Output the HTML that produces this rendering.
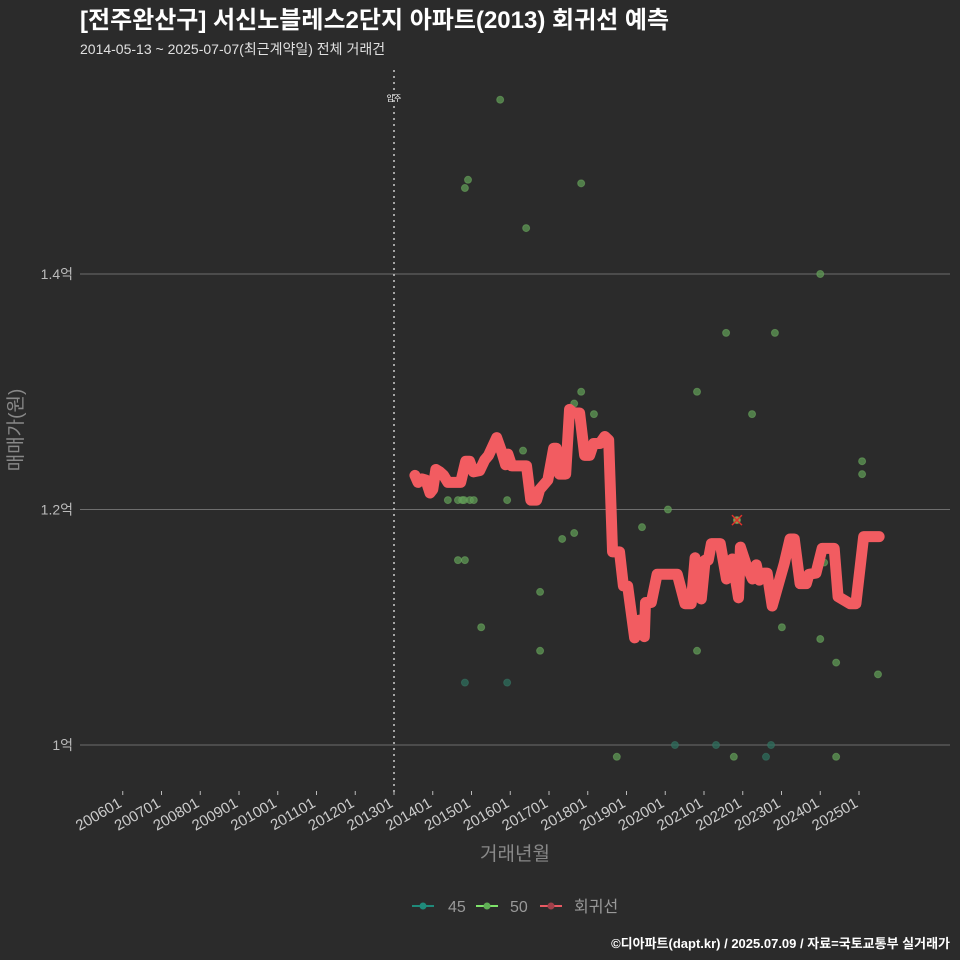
<!DOCTYPE html>
<html><head><meta charset="utf-8">
<style>
html,body{margin:0;padding:0;background:#2b2b2b;}
svg{display:block;font-family:"Liberation Sans","Noto Sans CJK KR",sans-serif;}
</style></head>
<body>
<svg id="chart" width="960" height="960" viewBox="0 0 960 960">
<rect width="960" height="960" fill="#2b2b2b"/>
<text x="80" y="28" fill="#ffffff" font-size="24" font-weight="bold">[전주완산구] 서신노블레스2단지 아파트(2013) 회귀선 예측</text>
<text x="80" y="54" fill="#e0e0e0" font-size="14">2014-05-13 ~ 2025-07-07(최근계약일) 전체 거래건</text>
<g id="grid"></g>
<g id="marks"></g>
<text x="22" y="430" fill="#888" font-size="19" transform="rotate(-90 22 430)" text-anchor="middle">매매가(원)</text>
<text x="515" y="860" fill="#888" font-size="19" text-anchor="middle">거래년월</text>
<g>
<g><line x1="412" y1="906" x2="434" y2="906" stroke="#1f8a7a" stroke-width="2"/><circle cx="423" cy="906" r="3.5" fill="#1f8a7a"/><text x="448" y="912" fill="#999" font-size="16">45</text></g>
<g><line x1="476" y1="906" x2="498" y2="906" stroke="#7ee36a" stroke-width="2"/><circle cx="487" cy="906" r="3.5" fill="#5fae55"/><text x="510" y="912" fill="#999" font-size="16">50</text></g>
<g><line x1="540" y1="906" x2="562" y2="906" stroke="#e85a63" stroke-width="2"/><circle cx="551" cy="906" r="3.5" fill="#a0404a"/><text x="574" y="912" fill="#999" font-size="16">회귀선</text></g>
</g>
<text x="950" y="948" fill="#ffffff" font-size="13" font-weight="bold" text-anchor="end">©디아파트(dapt.kr) / 2025.07.09 / 자료=국토교통부 실거래가</text>
</svg>
<script>
const yTicks=[1.0,1.2,1.4];
const yTickLabels=["1억","1.2억","1.4억"];
const xTickYears=[2006,2007,2008,2009,2010,2011,2012,2013,2014,2015,2016,2017,2018,2019,2020,2021,2022,2023,2024,2025];
const xTickLabels=["200601","200701","200801","200901","201001","201101","201201","201301","201401","201501","201601","201701","201801","201901","202001","202101","202201","202301","202401","202501"];
const moveInYear=2013;
const lineX=[2013.54,2013.62,2013.72,2013.82,2013.93,2014.0,2014.08,2014.18,2014.28,2014.39,2014.49,2014.72,2014.85,2014.95,2015.05,2015.21,2015.34,2015.44,2015.65,2015.78,2015.88,2015.94,2016.04,2016.24,2016.42,2016.53,2016.68,2016.76,2016.97,2017.12,2017.19,2017.27,2017.43,2017.53,2017.63,2017.79,2017.92,2018.05,2018.15,2018.31,2018.44,2018.54,2018.64,2018.82,2018.92,2019.03,2019.21,2019.33,2019.46,2019.49,2019.54,2019.64,2019.79,2020.05,2020.18,2020.31,2020.51,2020.67,2020.77,2020.93,2021.03,2021.11,2021.19,2021.42,2021.58,2021.73,2021.89,2021.94,2022.09,2022.25,2022.35,2022.43,2022.55,2022.63,2022.76,2023.07,2023.22,2023.33,2023.48,2023.64,2023.71,2023.89,2024.05,2024.36,2024.46,2024.77,2024.92,2025.12,2025.27,2025.43,2025.52];
const lineV=[1.229,1.223,1.226,1.225,1.214,1.217,1.234,1.232,1.229,1.223,1.223,1.223,1.241,1.241,1.232,1.233,1.242,1.246,1.261,1.249,1.238,1.247,1.237,1.237,1.237,1.208,1.208,1.217,1.225,1.252,1.252,1.230,1.230,1.285,1.282,1.282,1.246,1.246,1.256,1.256,1.262,1.259,1.164,1.164,1.135,1.135,1.091,1.106,1.092,1.121,1.121,1.121,1.145,1.145,1.145,1.145,1.120,1.120,1.159,1.124,1.157,1.157,1.171,1.171,1.141,1.158,1.125,1.168,1.153,1.141,1.153,1.140,1.146,1.146,1.118,1.154,1.175,1.175,1.137,1.137,1.145,1.146,1.167,1.167,1.126,1.120,1.120,1.177,1.177,1.177,1.177];
const ptX=[2015.74,2014.91,2014.83,2017.83,2016.41,2024.0,2021.57,2022.83,2020.82,2017.83,2017.65,2018.16,2022.24,2016.33,2025.08,2025.08,2014.39,2014.65,2014.76,2014.81,2014.96,2015.06,2015.92,2020.07,2021.85,2019.40,2017.65,2017.34,2014.65,2014.83,2024.1,2016.77,2023.01,2015.25,2024.0,2016.77,2020.82,2024.41,2025.49,2014.83,2015.92,2018.75,2020.25,2021.31,2021.77,2022.6,2022.73,2024.41];
const ptV=[1.548,1.480,1.473,1.477,1.439,1.400,1.350,1.350,1.300,1.300,1.290,1.281,1.281,1.250,1.241,1.230,1.208,1.208,1.208,1.208,1.208,1.208,1.208,1.200,1.191,1.185,1.180,1.175,1.157,1.157,1.155,1.130,1.100,1.100,1.090,1.080,1.080,1.070,1.060,1.053,1.053,0.990,1.000,1.000,0.990,0.990,1.000,0.990];
const ptType=[50,50,50,50,50,50,50,50,50,50,50,50,50,50,50,50,50,50,50,50,50,50,50,50,50,50,50,50,50,50,50,50,50,50,50,50,50,50,50,45,45,50,45,45,50,45,45,50];
const outlierX=[2021.85];
const outlierV=[1.191];

const NS="http://www.w3.org/2000/svg";
function xs(yr){return 394+(yr-2013)*38.75;}
function ys(v){return 745-(v-1.0)*1177.5;}
function mk(tag,attrs,parent){const e=document.createElementNS(NS,tag);for(const k in attrs)e.setAttribute(k,attrs[k]);parent.appendChild(e);return e;}
const grid=document.getElementById('grid'),marks=document.getElementById('marks');
yTicks.forEach((v,i)=>{
  const l=mk('line',{x1:80,x2:950,y1:ys(v),y2:ys(v),stroke:'#6e6e6e','stroke-width':1},grid);
  
  
  const t=mk('text',{x:73,y:ys(v)+5,fill:'#bbb','font-size':14,'text-anchor':'end'},grid);
  t.textContent=yTickLabels[i];
  
  
});
xTickYears.forEach((yr,i)=>{
  const x=xs(yr);
  const tk=mk('line',{x1:x,x2:x,y1:791,y2:795,stroke:'#bbb','stroke-width':1},grid);
  
  
  const t=mk('text',{x:x,y:806,fill:'#ccc','font-size':15,'text-anchor':'end',transform:`rotate(-30 ${x} 806)`},grid);
  t.textContent=xTickLabels[i];
  
  
});
const mv=mk('line',{x1:xs(moveInYear),x2:xs(moveInYear),y1:70,y2:792,stroke:'#ccc','stroke-width':1.5,'stroke-dasharray':'2 4'},grid);


const mt=mk('text',{x:xs(moveInYear),y:101,fill:'#fff','font-size':8,'text-anchor':'middle'},grid);
mt.textContent='입주';



ptX.forEach((x,i)=>{
  const c=mk('circle',{cx:xs(x),cy:ys(ptV[i]),r:3.5,fill:ptType[i]===45?'#2e6e5c':'#5f9a55','fill-opacity':0.75,stroke:ptType[i]===45?'#3a7a68':'#6fae62','stroke-opacity':0.5,'stroke-width':1},marks);
  
  
});
const p=mk('polyline',{points:lineX.map((x,i)=>xs(x)+','+ys(lineV[i])).join(' '),fill:'none',stroke:'#f25c61','stroke-width':11,'stroke-linejoin':'round','stroke-linecap':'round'},marks);


outlierX.forEach((x,i)=>{
  const cx=xs(x),cy=ys(outlierV[i]);
  const g=mk('g',{},marks);
  
  
  mk('circle',{cx:cx,cy:cy,r:3.5,fill:'#8a9a50'},g);
  mk('path',{d:`M${cx-5},${cy-5}L${cx+5},${cy+5}M${cx+5},${cy-5}L${cx-5},${cy+5}`,stroke:'#e0302a','stroke-width':1.5},g);
});
</script>
</body></html>
